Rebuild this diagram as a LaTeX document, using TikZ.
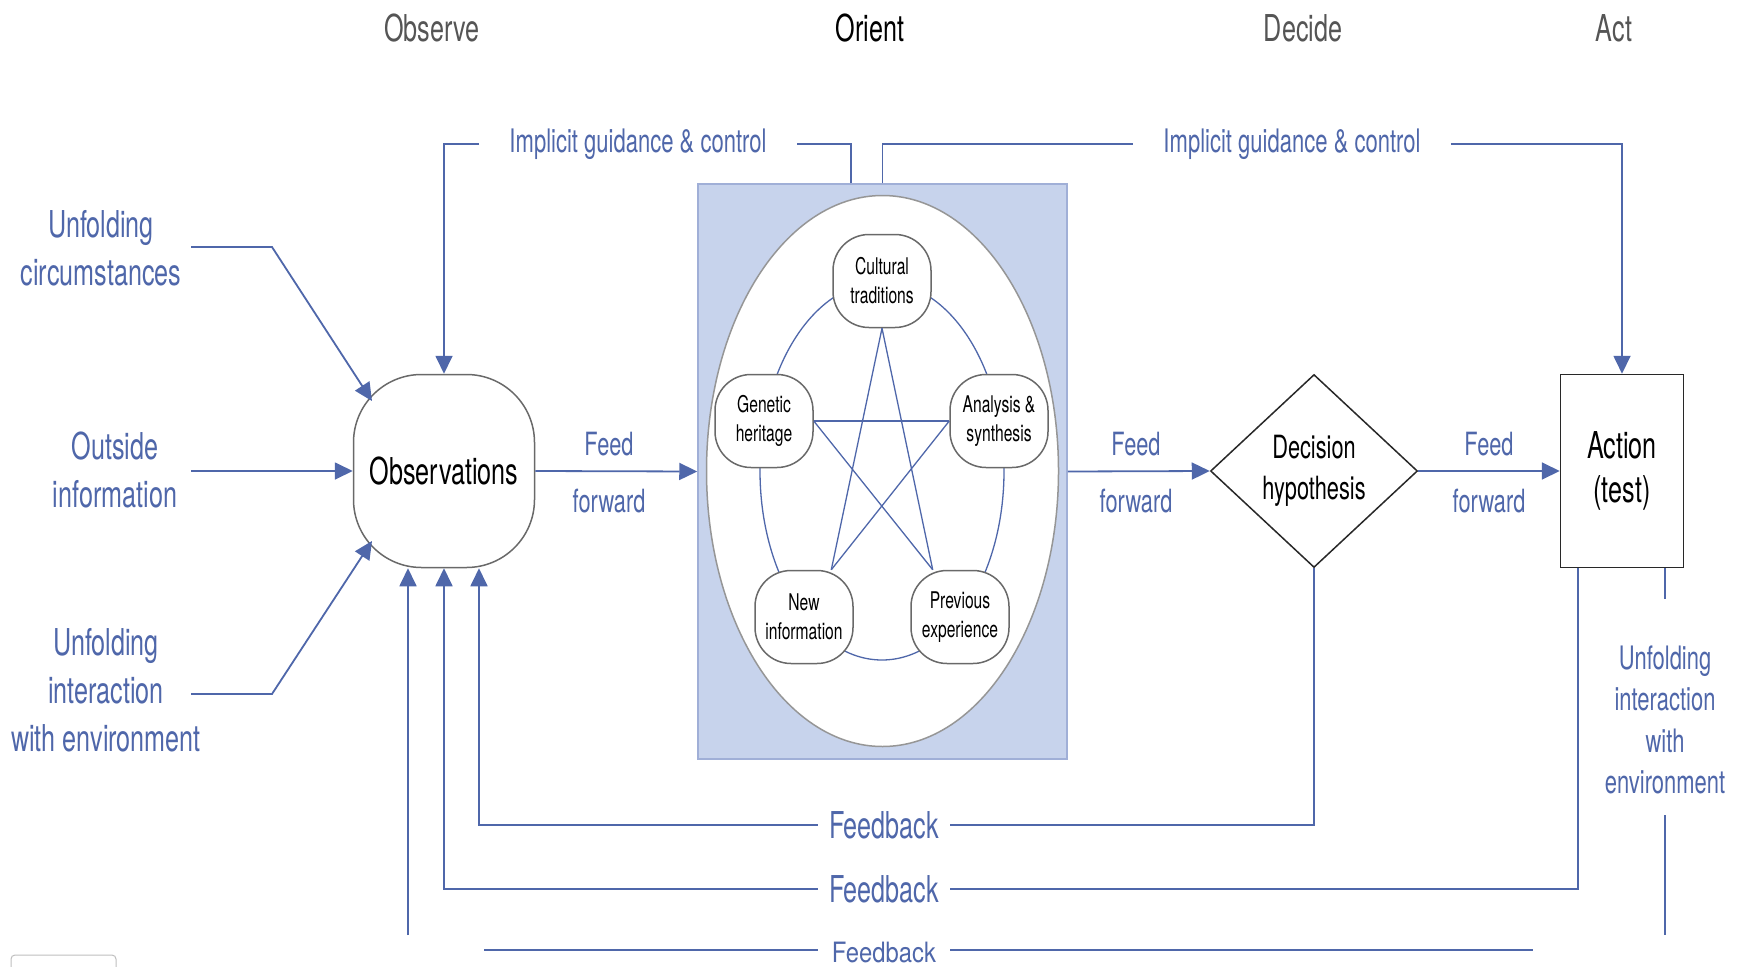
\documentclass[tikz,border=0pt]{standalone}
\usepackage{fontspec}
\setmainfont{TeX Gyre Heros}[FakeStretch=0.68]
\usetikzlibrary{shapes.geometric,arrows.meta,calc}
\definecolor{oob}{RGB}{79,103,170}
\definecolor{hdrgray}{RGB}{85,85,85}
\definecolor{ngray}{RGB}{105,105,105}
\definecolor{dark}{RGB}{40,40,40}
\definecolor{rectf}{RGB}{199,211,236}
\definecolor{rectb}{RGB}{160,175,215}
\definecolor{ellg}{RGB}{150,150,150}
\begin{document}
\begin{tikzpicture}[x=1pt,y=-1pt,
  hdr/.style={text=hdrgray,font=\fontsize{37}{44}\selectfont,inner sep=0pt},
  lab/.style={text=oob,align=center,font=\fontsize{37}{48}\selectfont,inner xsep=10pt},
  fflab/.style={text=oob,font=\fontsize{32}{40}\selectfont,inner sep=0pt},
  iglab/.style={text=oob,font=\fontsize{32.4}{40}\selectfont,inner xsep=30pt},
  fblab/.style={text=oob,font=\fontsize{37}{44}\selectfont,inner xsep=11pt},
  ln/.style={draw=oob,line width=1.8pt},
  ar/.style={draw=oob,line width=1.8pt,-{Triangle[length=18pt,width=17pt]}},
  inner/.style={draw=ngray,fill=white,line width=1.5pt,rounded corners=36pt,
    minimum width=98pt,minimum height=93pt,align=center,inner sep=0pt,
    text=black,font=\fontsize{23}{29}\selectfont},
  starln/.style={draw=oob,line width=1.3pt}
]
\useasboundingbox (0,0) rectangle (1739,966);
\fill[white] (0,0) rectangle (1739,966);

% headers
\node[hdr] (hobs) at (432,28) {Observe};
\node[hdr,text=black] (hori) at (870,28) {Orient};
\node[hdr] (hdec) at (1303,28) {Decide};
\node[hdr] (hact) at (1614,28) {Act};

% orient box
\node[draw=rectb,fill=rectf,line width=1.5pt,minimum width=369pt,minimum height=575pt,inner sep=0pt] (orient) at (882.5,471.5) {};
\node[ellipse,draw=ellg,fill=white,line width=1.5pt,minimum width=352pt,minimum height=551pt,inner sep=0pt] (oval) at (882.5,471) {};
\draw[starln] (882,471) ellipse [x radius=122pt, y radius=189pt];

\node[inner] (cult) at (882,281) {Cultural\\traditions};
\node[inner] (gen) at (764,421) {Genetic\\heritage};
\node[inner] (ana) at (999,421) {Analysis \&\\synthesis};
\node[inner] (new) at (804,617) {New\\information};
\node[inner] (prev) at (960,617) {Previous\\experience};

\draw[starln] (cult.south) -- (new.60);
\draw[starln] (cult.south) -- (prev.120);
\draw[starln] (gen.east) -- (ana.west);
\draw[starln] (gen.east) -- (prev.120);
\draw[starln] (ana.west) -- (new.60);

% main nodes
\node[draw=ngray,fill=white,line width=1.5pt,rounded corners=68pt,minimum width=181pt,minimum height=193pt,
  font=\fontsize{37}{44}\selectfont,text=black,inner sep=0pt] (obs) at (444,471) {Observations};
\node[diamond,draw=dark,line width=1.5pt,minimum width=207pt,minimum height=193pt,inner sep=0pt,align=center,
  font=\fontsize{32}{41}\selectfont,text=black] (dec) at (1314,471) {Decision\\hypothesis};
\node[draw=dark,line width=1.5pt,minimum width=123pt,minimum height=193pt,inner sep=0pt,align=center,
  font=\fontsize{37}{44}\selectfont,text=black] (act) at (1622,471) {Action\\(test)};

% feed forward
\draw[ar] (obs.east) -- (orient.west);
\node[fflab] (ff1a) at (609,444) {Feed};
\node[fflab] (ff1b) at (609,501) {forward};
\draw[ar] (orient.east) -- (dec.west);
\node[fflab] (ff2a) at (1136,444) {Feed};
\node[fflab] (ff2b) at (1136,501) {forward};
\draw[ar] (dec.east) -- (act.west);
\node[fflab] (ff3a) at (1489,444) {Feed};
\node[fflab] (ff3b) at (1489,501) {forward};

% implicit guidance
\node[iglab] (igL) at (638,144) {Implicit guidance \& control};
\node[iglab] (igR) at (1292,144) {Implicit guidance \& control};
\draw[ln] ($(orient.north)+(-31.5,0)$) |- (igL.east);
\draw[ar] (igL.west) -| (obs.north);
\draw[ln] (orient.north) |- (igR.west);
\draw[ar] (igR.east) -| (act.north);

% left inputs
\node[lab] (uc) at (101,248) {Unfolding\\circumstances};
\node[lab] (oi) at (115,470) {Outside\\information};
\node[lab] (uie) at (106,690) {Unfolding\\interaction\\with environment};
\coordinate (ucS) at (191,247);
\coordinate (ucB) at (272,247);
\coordinate (obsUL) at ($(obs.center)+(-72,-70)$);
\coordinate (oiS) at (191,471);
\coordinate (uieS) at (191,694);
\coordinate (uieB) at (272,694);
\coordinate (obsLL) at ($(obs.center)+(-72,70)$);
\draw[ar] (ucS) -- (ucB) -- (obsUL);
\draw[ar] (oiS) -- (obs.west);
\draw[ar] (uieS) -- (uieB) -- (obsLL);

% feedback loops
\coordinate (obsB1) at ($(obs.south)+(-36,0)$);
\coordinate (obsB3) at ($(obs.south)+(35,0)$);
\coordinate (actB1) at ($(act.south)+(-44,0)$);
\coordinate (actB2) at ($(act.south)+(43,0)$);
\node[fblab] (fb1) at (884,825) {Feedback};
\node[fblab] (fb2) at (884,889) {Feedback};
\draw[ln] (dec.south) |- (fb1.east);
\draw[ar] (fb1.west) -| (obsB3);
\draw[ln] (actB1) |- (fb2.east);
\draw[ar] (fb2.west) -| (obs.south);
\coordinate (fb3S) at (408,935);
\draw[ar] (fb3S) -- (obsB1);
\node[text=oob,font=\fontsize{28}{34}\selectfont,inner sep=0pt] (fb3) at (884,952) {\addfontfeature{FakeStretch=0.85}Feedback};
\coordinate (fb3L) at (484,950);
\coordinate (fb3Lg) at (818,950);
\coordinate (fb3Rg) at (950,950);
\coordinate (fb3R) at (1533,950);
\draw[ln] (fb3L) -- (fb3Lg);
\draw[ln] (fb3Rg) -- (fb3R);

% right output
\node[text=oob,align=center,font=\fontsize{32.3}{41.6}\selectfont,inner sep=0pt] (uieR) at (1665,720) {Unfolding\\interaction\\with\\environment};
\coordinate (uieT) at (1665,599);
\coordinate (uieBo) at (1665,815);
\coordinate (uieE) at (1665,935);
\draw[ln] (actB2) -- (uieT);
\draw[ln] (uieBo) -- (uieE);

% small artifact box at bottom left
\draw[black!25,line width=1pt,rounded corners=4pt] (11,967) -- (11,955) -- (116,955) -- (116,967);
\end{tikzpicture}
\end{document}
